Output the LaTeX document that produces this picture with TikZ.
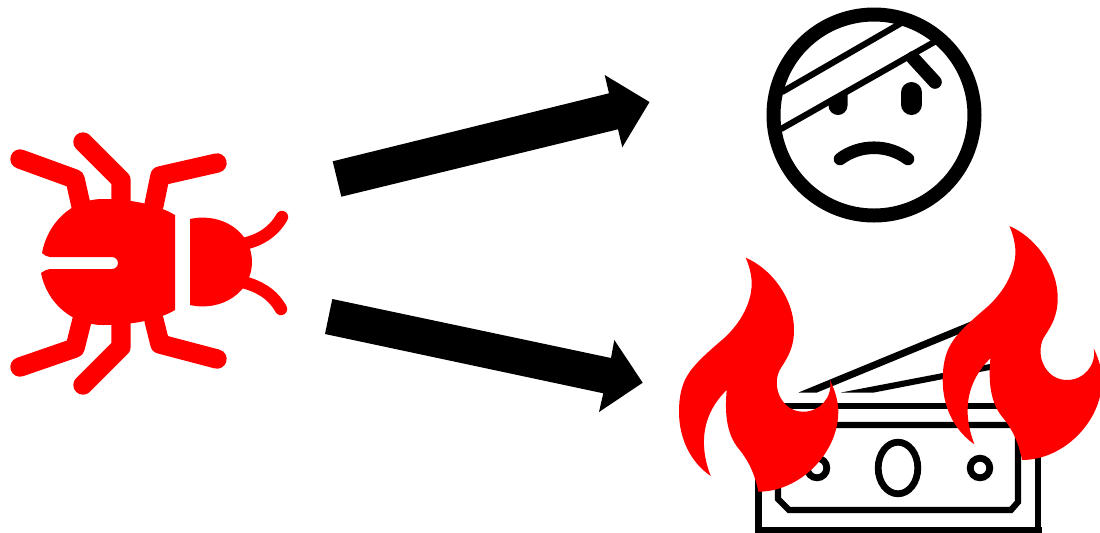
\documentclass[tikz,border=0pt]{standalone}
\definecolor{bugred}{RGB}{255,0,0}
\tikzset{
  px/.style={x=0.5pt,y=-0.5pt},
  bugleg/.style={draw=bugred,line width=9.7pt,line cap=round,line join=round},
  antenna/.style={draw=bugred,line width=6.2pt,line cap=round},
  ink/.style={draw=black,line width=3.1pt,line join=miter},
  inkring/.style={draw=black,line width=3.4pt},
  inkround/.style={draw=black,line cap=round,line width=6.3pt},
}
\newcommand{\flameshape}{
  (75.7,37.7) .. controls (100,48) and (124,77) .. (124,110)
  .. controls (124,127) and (118,137) .. (111.7,146.7)
  .. controls (100,163) and (110,191.7) .. (133.3,191.7)
  .. controls (150,191.7) and (163,177) .. (160,160)
  .. controls (165.7,172) and (168.3,182) .. (168.3,191.7)
  .. controls (168.3,233) and (130,271.7) .. (88.3,271.7)
  .. controls (85,253) and (76.7,238) .. (68.3,228.3)
  .. controls (57,214) and (54.5,195) .. (56.7,170)
  .. controls (33,193) and (28,223) .. (40.7,256)
  .. controls (21.7,243) and (9,220) .. (9,191.7)
  .. controls (9,177) and (11.7,165) .. (16.7,156.7)
  .. controls (23,145) and (38,132) .. (50,121.7)
  .. controls (68,107) and (81.7,85) .. (81.7,63.3)
  .. controls (81.7,55) and (79,45) .. (75.7,37.7) -- cycle
}
\begin{document}
\begin{tikzpicture}[px]
\useasboundingbox (0,0) rectangle (1100,532);
\clip (0,0) rectangle (1100,532);
% bug
\fill[bugred] (175,215) .. controls (155,203) and (125,199) .. (103,199)
  .. controls (70,199) and (47,225) .. (42,253)
  .. controls (44,255) and (47,257) .. (50,257) -- (112,257)
  arc[start angle=-90,end angle=90,radius=6] -- (50,269)
  .. controls (47,269) and (44,271) .. (41,273)
  .. controls (47,303) and (72,325) .. (103,325)
  .. controls (125,325) and (155,322) .. (175,310) -- cycle;
\fill[bugred] (190,219) .. controls (222,212) and (252,232) .. (252,262)
  .. controls (252,292) and (222,312) .. (190,305) -- cycle;
\draw[bugleg] (20,159) -- (75,179) -- (82,210);
\draw[bugleg] (83,142) -- (121,180) -- (121,204);
\draw[bugleg] (217,163) -- (160,176) -- (154,205);
\draw[bugleg] (20,367) -- (75,348) -- (82,320);
\draw[bugleg] (83,385) -- (121,347) -- (121,320);
\draw[bugleg] (217,359) -- (160,344) -- (154,320);
\draw[antenna] (282,217) .. controls (273,233) and (258,241) .. (243,244);
\draw[antenna] (281,309) .. controls (272,293) and (258,286) .. (243,282);
% arrows
\coordinate (a1t) at (649.5,102);
\coordinate (a2t) at (642.7,382.7);
\fill (332.7,161.3) -- (609,93.3) -- (604.7,75) -- (a1t) -- (622.3,147.3) -- (618,129.3) -- (341.3,196.7) -- cycle;
\fill (332.3,299) -- (611,358) -- (614.3,340) -- (a2t) -- (599,412) -- (603.3,393.3) -- (325,334) -- cycle;
% face
\draw[black,line width=7pt] (874,115) circle[radius=100.5];
\draw[black,line width=3.1pt] (782,92) -- (903,22);
\draw[black,line width=3.1pt] (781,129) -- (936,41);
\fill (828.5,102) -- (847.5,91) -- (847.5,105.5) arc[start angle=0,end angle=180,radius=9.5] -- cycle;
\draw[black,line width=10.5pt,line cap=round] (911.5,92.5) -- (911.5,104.5);
\draw[black,line width=6.8pt,line cap=round] (913,58) -- (935,82);
\draw[inkround] (840,159) .. controls (860,144) and (888,144) .. (908,159);
% money
\draw[ink] (758.5,540) -- (758.5,406) -- (1038,406) -- (1038,540);
\draw[ink] (755,530) -- (1042,530);
\draw[ink] (778,425) -- (1018,425) -- (1018,502) -- (1011,510) -- (789,510) -- (778,499) -- cycle;
\draw[inkring] (898,468) ellipse[x radius=19.8,y radius=25.8];
\draw[inkring] (817,468) circle[radius=9.8];
\draw[inkring] (980,468) circle[radius=9.8];
\fill (798.5,392.5) -- (972,321) -- (976,327) -- (817,392.5) -- cycle;
\fill (841,392.5) -- (995,363) -- (995,369) -- (874,392.5) -- cycle;
% flames
\begin{scope}[shift={(670,220)}]
\fill[bugred] \flameshape;
\end{scope}
\begin{scope}[shift={(933.7,188.3)}]
\fill[bugred] \flameshape;
\end{scope}
\end{tikzpicture}
\end{document}
